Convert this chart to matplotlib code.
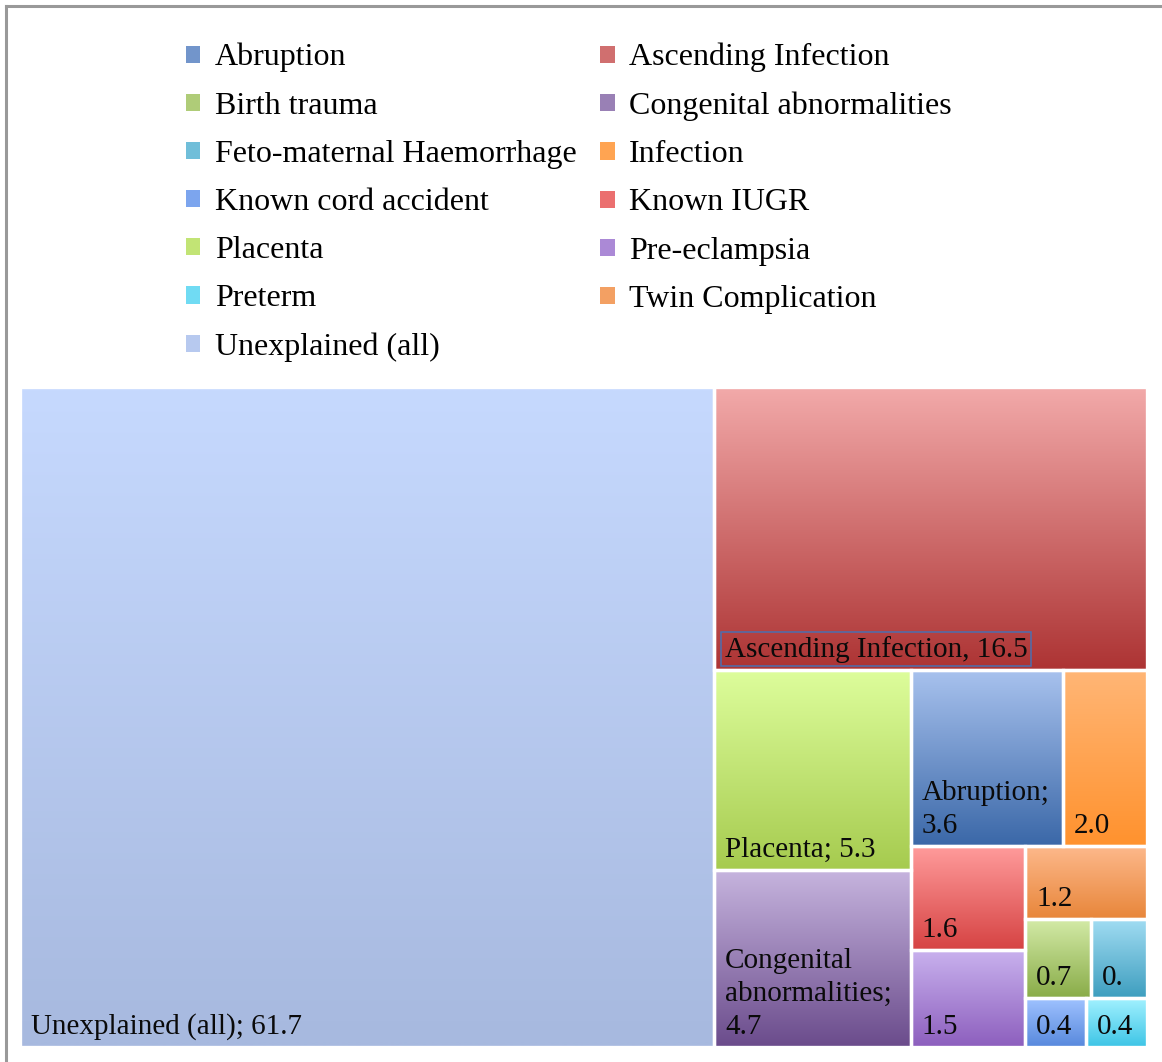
import numpy as np
import matplotlib
matplotlib.use("Agg")
import matplotlib.pyplot as plt
from matplotlib.colors import to_rgb
from matplotlib.patches import Rectangle, Patch
from matplotlib.lines import Line2D

# causes, sorted by share (%)
causes = ["Unexplained (all)", "Ascending Infection", "Placenta", "Congenital abnormalities",
          "Abruption", "Infection", "Known IUGR", "Pre-eclampsia", "Twin Complication",
          "Birth trauma", "Feto-maternal Haemorrhage", "Known cord accident", "Preterm"]
shares = [61.7, 16.5, 5.3, 4.7, 3.6, 2.0, 1.6, 1.5, 1.2, 0.7, 0.6, 0.4, 0.4]
tile_labels = ["Unexplained (all); 61.7", "Ascending Infection, 16.5", "Placenta; 5.3",
               "Congenital\nabnormalities;\n4.7", "Abruption;\n3.6", "2.0", "1.6", "1.5",
               "1.2", "0.7", "0.", "0.4", "0.4"]

# gradient colours (top, bottom) per tile
top_cols = ["#c6d9fe", "#f2a9a9", "#ddfd9b", "#c6b4de", "#a8c2ee", "#ffb676", "#ff9b9b",
            "#c9b2ee", "#fdb98c", "#d4eba8", "#a2ddf3", "#9fc2ff", "#a2f1ff"]
bot_cols = ["#a7b9df", "#ad3434", "#a6cb4f", "#6b4c8c", "#3b68a8", "#ff922e", "#d64343",
            "#8d5fbe", "#e8863a", "#89ac48", "#3e9ebf", "#5889dd", "#3ec5e6"]

W, H = 1127, 660


def worst(row, short):
    s = sum(row)
    return max(max(short**2 * r / s**2, s**2 / (short**2 * r)) for r in row)


def squarify(areas, x, y, w, h):
    rects = []
    vals = list(areas)
    while vals:
        short = min(w, h)
        row = [vals[0]]
        i = 1
        while i < len(vals) and worst(row + [vals[i]], short) <= worst(row, short) * 1.01:
            row.append(vals[i])
            i += 1
        s = sum(row)
        if w >= h:
            cw = s / h
            yy = y
            for a in row:
                rects.append((x, yy, cw, a / cw))
                yy += a / cw
            x += cw
            w -= cw
        else:
            rh = s / w
            xx = x
            for a in row:
                rects.append((xx, y, a / rh, rh))
                xx += a / rh
            y += rh
            h -= rh
        vals = vals[i:]
    return rects


tot = sum(shares)
areas = [v / tot * W * H for v in shares]
rects = squarify(areas, 0, 0, W, H)

fig = plt.figure(figsize=(11.62, 10.62), dpi=100)
ax = fig.add_axes([20 / 1162, 15 / 1062, W / 1162, H / 1062])
ax.set_xlim(0, W)
ax.set_ylim(H, 0)
ax.axis("off")

font = "Liberation Serif"
for (x, y, w, h), lab, c0, c1 in zip(rects, tile_labels, top_cols, bot_cols):
    t = np.linspace(0, 1, 64)[:, None, None]
    grad = (1 - t) * np.array(to_rgb(c0)) + t * np.array(to_rgb(c1))
    ax.imshow(grad, extent=(x, x + w, y + h, y), aspect="auto", interpolation="bilinear", zorder=1)
    ax.add_patch(Rectangle((x, y), w, h, fill=False, ec="white", lw=2.4, zorder=2, clip_on=False))
    kw = {}
    if lab.startswith("Ascending"):
        kw["bbox"] = dict(boxstyle="square,pad=0.12", fc="none", ec="#4c6fb0", lw=1.1)
    ax.text(x + 11, y + h - 13, lab, fontsize=21, family=font, color="#0a0a0a",
            ha="left", va="baseline", zorder=3, linespacing=1.36, **kw)

# legend, alphabetical, filled row by row
order = sorted(range(len(causes)), key=lambda i: causes[i].lower())
mids = [tuple((np.array(to_rgb(top_cols[i])) + np.array(to_rgb(bot_cols[i]))) / 2) for i in order]
handles = [Patch(fc=m, ec="none") for m in mids]
names = [causes[i] for i in order]
col_order = list(range(0, len(names), 2)) + list(range(1, len(names), 2))
fig.legend([handles[i] for i in col_order], [names[i] for i in col_order], ncol=2,
           loc="upper left", bbox_to_anchor=(186 / 1162, 1 - 43 / 1062), frameon=False,
           prop={"family": font, "size": 23}, handlelength=0.45, handleheight=0.45,
           handletextpad=0.45, columnspacing=0.75, labelspacing=0.6, borderpad=0,
           borderaxespad=0)

# outer frame (left and top edges only, as in the screenshot)
fig.add_artist(Line2D([6 / 1162, 6 / 1162], [0, 1 - 6 / 1062], transform=fig.transFigure,
                      color="#999999", lw=2.2))
fig.add_artist(Line2D([6 / 1162, 1], [1 - 6 / 1062, 1 - 6 / 1062], transform=fig.transFigure,
                      color="#999999", lw=2.2))

fig.savefig("out.png", dpi=100)
